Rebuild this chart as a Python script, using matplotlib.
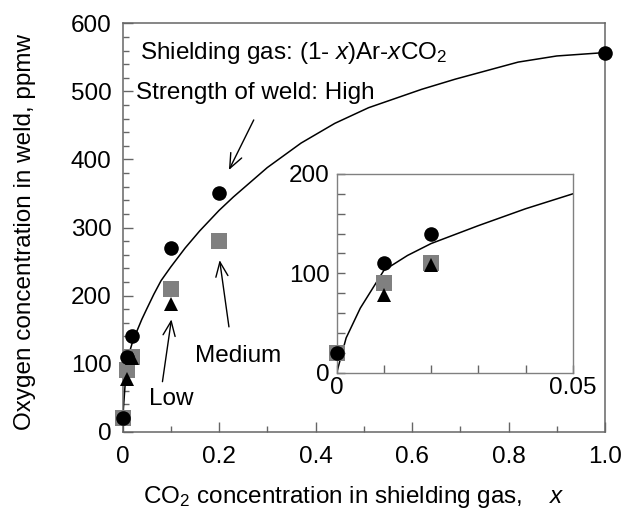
import matplotlib
matplotlib.use('Agg')
import matplotlib.pyplot as plt
from matplotlib.ticker import MultipleLocator

plt.rcParams['font.family'] = ['Liberation Sans', 'DejaVu Sans']
plt.rcParams['mathtext.fontset'] = 'custom'
plt.rcParams['mathtext.rm'] = 'Liberation Sans'
plt.rcParams['mathtext.it'] = 'Liberation Sans:italic'
plt.rcParams['font.size'] = 17.5

# ── data ─────────────────────────────────────────────────
x_high = [0, 0.01, 0.02, 0.1, 0.2, 1.0]
o_high = [20, 110, 140, 270, 350, 557]
x_med = [0, 0.01, 0.02, 0.1, 0.2]
o_med = [20, 90, 110, 210, 280]
x_low = [0.01, 0.02, 0.1]
o_low = [78, 108, 188]

# fitted curve, traced point by point
fit_x = [0, 0.002, 0.005, 0.01, 0.015, 0.02, 0.03, 0.04, 0.05, 0.065, 0.08, 0.1,
         0.13, 0.16, 0.2, 0.23, 0.3, 0.37, 0.44, 0.51, 0.62, 0.69, 0.82, 0.9, 1.0]
fit_y = [0, 35, 65, 103, 118, 130, 148, 165, 180, 202, 222, 242,
         270, 295, 325, 345, 388, 424, 453, 476, 503, 518, 543, 552, 557]

main_xticks = [0, 0.2, 0.4, 0.6, 0.8, 1.0]
main_xlabels = ['0', '0.2', '0.4', '0.6', '0.8', '1.0']
inset_xticks = [0, 0.01, 0.02, 0.03, 0.04, 0.05]
inset_xlabels = ['0', '', '', '', '', '0.05']

SPINE = '#666666'
GRAY = '#808080'
MS_O, MS_S, MS_T = 10.5, 11.5, 10.6


def draw_points(ax):
    ax.plot(x_med, o_med, 's', color=GRAY, ms=MS_S, mew=0, zorder=3, clip_on=False)
    ax.plot(x_high, o_high, 'o', color='black', ms=MS_O, mew=0, zorder=4, clip_on=False)
    ax.plot(x_low, o_low, '^', color='black', ms=MS_T, mew=0, zorder=5, clip_on=False)


fig = plt.figure(figsize=(6.32, 5.09), dpi=100)
ax = fig.add_axes([122.5 / 632, 1 - 431.7 / 509, 482.5 / 632, 408.4 / 509])

ax.plot(fit_x, fit_y, '-', color='black', lw=1.1, zorder=2)
draw_points(ax)

ax.set_xlim(0, 1.0)
ax.set_ylim(0, 600)
ax.set_xticks(main_xticks, main_xlabels)
ax.xaxis.set_minor_locator(MultipleLocator(0.1))
ax.yaxis.set_major_locator(MultipleLocator(100))
ax.yaxis.set_minor_locator(MultipleLocator(20))
ax.tick_params(which='both', direction='in', top=False, right=False, color=SPINE, width=1)
ax.tick_params(which='major', length=7)
ax.tick_params(which='minor', length=4)
ax.tick_params(axis='x', pad=10)
ax.tick_params(axis='y', pad=8)
for s in ax.spines.values():
    s.set_color(SPINE)
    s.set_linewidth(1.1)

fig.text(354 / 632, 1 - 503 / 509, 'CO$_2$ concentration in shielding gas,    $x$',
         ha='center', va='baseline')
fig.text(25 / 632, 0.545, 'Oxygen concentration in weld, ppmw',
         rotation=90, ha='center', va='center')

ax.text(0.037, 547, 'Shielding gas: (1- $x$)Ar-$x$CO$_2$', va='baseline')
ax.text(0.027, 488.6, 'Strength of weld: High', va='baseline')
ax.text(0.2396, 102, 'Medium', ha='center', va='baseline')
ax.text(0.101, 39, 'Low', ha='center', va='baseline')

arw = dict(arrowstyle='->,head_length=0.6,head_width=0.25', color='black', lw=1,
           shrinkA=0, shrinkB=0)
ax.annotate('', xy=(0.2206, 384.5), xytext=(0.272, 458), arrowprops=arw)
ax.annotate('', xy=(0.2013, 252), xytext=(0.2206, 154), arrowprops=arw)
ax.annotate('', xy=(0.1014, 165), xytext=(0.0828, 73.5), arrowprops=arw)

# ── inset ─────────────────────────────────────────────────
ins = fig.add_axes([336.7 / 632, 1 - 372.7 / 509, 236 / 632, 198.7 / 509])
ins.plot(fit_x, fit_y, '-', color='black', lw=1.1, zorder=2)
draw_points(ins)
ins.set_xlim(0, 0.05)
ins.set_ylim(0, 200)
ins.set_xticks(inset_xticks, inset_xlabels)
ins.yaxis.set_major_locator(MultipleLocator(100))
ins.yaxis.set_minor_locator(MultipleLocator(20))
ins.tick_params(which='both', direction='in', top=False, right=False, color=SPINE,
                width=1, length=6)
ins.tick_params(axis='x', pad=3)
ins.tick_params(axis='y', pad=5)
for s in ins.spines.values():
    s.set_color(GRAY)
    s.set_linewidth(1)

fig.savefig('out.png', dpi=100)
